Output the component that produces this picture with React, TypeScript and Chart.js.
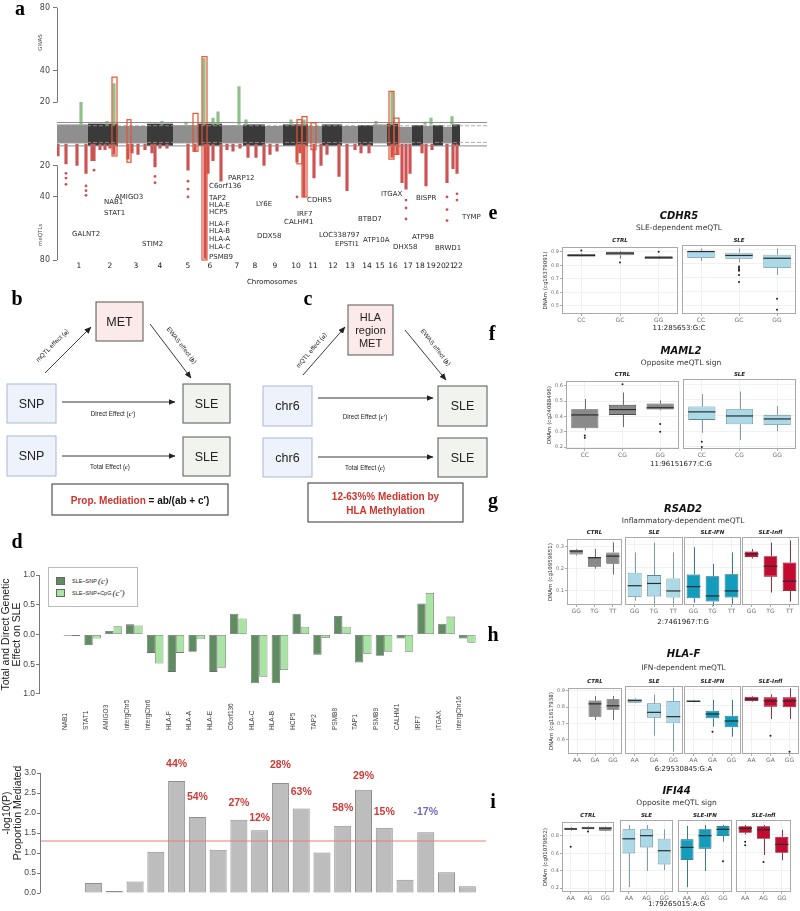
import React, { useEffect, useRef } from 'react';
import { Chart, registerables } from 'chart.js';

Chart.register(...registerables);

const SANS = "'DejaVu Sans', 'Liberation Sans', sans-serif";
const ARIAL = "'Liberation Sans', Arial, sans-serif";
const SERIF = "'Liberation Serif', 'DejaVu Serif', serif";

/* ================= Panel a : mirrored Manhattan (GWAS up, meQTL down) ================= */
const CHROM_NAMES = ['1','2','3','4','5','6','7','8','9','10','11','12','13','14','15','16','17','18','19','20','21','22'];
const CHROM_START = [0,31,61,90,116,141,165,186,208,226,251,265,285,301,316,330,341,355,366,376,386,395];
const CHROM_END = [31,61,90,116,141,165,186,208,226,251,265,285,301,316,330,341,355,366,376,386,395,403];
const CHROM_TICK = [22,53,79,103,131,153,180,198,218,239,256,276,293,310,323,336,351,363,374,384,393,401];
const BAND_TOP = [6,6.5,5,6.5,5.5,6.5,5.5,6,5,6,5,6,5,5.5,6,6.5,4.5,5.5,5,5.5,4.5,6];
const BAND_BOTTOM = [-6,-7.5,-6,-7.5,-6,-7.5,-6,-7.5,-6,-7.5,-6,-7.5,-6,-7.5,-6,-7.5,-6,-7.5,-6,-7.5,-6,-7.5];
const GWAS_POS = [24,50,57,105,129,147,156,161,182,189,234,247,319,335,368,374,395];
const GWAS_TOP = [20,8,32,8,7.5,48,10,14,30,9,9,9,8,27,7.5,10,11];
const MEQTL_POS = [1,9,20,29,35,37,43,48,53,57,71,75,81,88,95,98,103,110,131,138,148,151,156,164,170,176,183,191,199,207,213,220,240,243,247,257,264,270,282,290,298,304,312,335,340,345,349,353,365,369,375,390,396,400];
const MEQTL_BOTTOM = [-14,-19,-20,-25,-17,-17,-10,-10,-9,-13,-16,-12,-13,-10,-12,-21,-9,-9,-23,-11,-79,-25,-17,-30,-10,-11,-9,-15,-15,-20,-13,-11,-18,-12,-40,-28,-20,-13,-27,-36,-10,-12,-12,-15,-13,-31,-35,-25,-12,-33,-10,-31,-22,-25];
const MEQTL_DOT_POS = [9,9,9,29,29,29,37,98,98,131,131,131,240,349,349,349,390,390,390,400,400];
const MEQTL_DOT_VAL = [-25,-28,-32,-33,-36,-39,-23,-27,-31,-30,-35,-40,-40,-42,-47,-54,-40,-48,-55,-38,-42];
const HIT_X0 = [55,70,136,145,240,245,254,332,337];
const HIT_X1 = [60,74,141,150,245,250,259,337,342];
const HIT_TOP = [36,9,13,49,9,11,7,27,10];
const HIT_BOTTOM = [-14,-18,-11,-80,-19,-40,-10,-16,-13];
const THRESH_SOLID = [7.2, -7.6];
const THRESH_DASHED = [5.2, -5.4];
const A_Y_TICKS = [-80,-40,-20,20,40,80];
const A_X_MAX = 430;
const GENE_NAMES = ['PARP12','C6orf136','AMIGO3','NAB1','STAT1','TAP2','HLA-E','HCP5','HLA-F','HLA-B','HLA-A','HLA-C','PSMB9','LY6E','CDHR5','IRF7','CALHM1','DDX58','GALNT2','STIM2','ITGAX','BISPR','BTBD7','TYMP','LOC338797','EPSTI1','ATP10A','ATP9B','DHX58','BRWD1'];
const GENE_POS = [171,152,58,47,47,152,152,152,152,152,152,152,152,199,250,240,227,200,15,85,324,359,301,405,262,278,306,355,336,378];
const GENE_VAL = [-27.8,-33.4,-40.4,-43.5,-50.5,-41,-45.4,-49.8,-57.4,-61.8,-66.9,-71.9,-78.2,-44.8,-42.3,-51.1,-56.2,-65,-63.7,-70,-38.5,-41,-54.3,-53,-64.4,-70,-67.5,-65.6,-72,-72.6];

/* ================= Panel d ================= */
const D_CATS = ['NAB1','STAT1','AMIGO3','intergChr5','intergChr6','HLA-F','HLA-A','HLA-E','C6orf136','HLA-C','HLA-B','HCP5','TAP2','PSMB8','TAP1','PSMB9','CALHM1','IRF7','ITGAX','intergChr16'];
const D_TOTAL = [-0.02,-0.18,0.06,0.17,-0.31,-0.63,-0.29,-0.63,0.35,-0.82,-0.82,0.35,-0.34,0.31,-0.47,-0.36,-0.07,0.52,0.18,-0.07];
const D_DIRECT = [-0.03,-0.07,0.14,0.15,-0.49,-0.31,-0.08,-0.56,0.27,-0.71,-0.6,0.13,-0.06,0.13,-0.33,-0.29,-0.29,0.7,0.3,-0.14];
const D_NEGLOGP = [0.01,0.25,0.05,0.29,1.03,2.8,1.9,1.08,1.83,1.57,2.75,2.11,1.01,1.68,2.58,1.63,0.33,1.52,0.52,0.17];
const D_PCT = ['','','','','','44%','54%','','27%','12%','28%','63%','','58%','29%','15%','','-17%','',''];
const D_PCT_Y = [0,0,0,0,0,3.22,2.39,0,2.24,1.87,3.19,2.52,0,2.12,2.92,2.02,0,2.02,0,0];
const D_SIG = 1.3;
const D_TOP_TICKS = [-1,-0.5,0,0.5,1];
const D_BOT_TICKS = [0,0.5,1,1.5,2,2.5,3];
const D_X_MIN = -1.58;
const D_X_MAX = 19.9;

/* ================= Panels e-i : boxplots [min, q1, median, q3, max] ================= */
const E_GENO = ['CC','GC','GG'];
const E_CTRL = [[0.862,0.864,0.872,0.884,0.888],[0.85,0.874,0.89,0.9,0.905],[0.845,0.848,0.856,0.866,0.87]];
const E_CTRL_OUT = [[0.91],[0.82],[0.9]];
const E_SLE = [[0.82,0.842,0.888,0.893,0.91],[0.81,0.837,0.86,0.88,0.91],[0.72,0.77,0.84,0.865,0.91]];
const E_SLE_OUT = [[],[0.78,0.77,0.76,0.75,0.72,0.67],[0.55,0.47]];

const F_GENO = ['CC','CG','GG'];
const F_CTRL = [[0.31,0.323,0.41,0.447,0.515],[0.33,0.41,0.445,0.476,0.557],[0.44,0.445,0.457,0.485,0.505]];
const F_CTRL_OUT = [[0.275,0.26],[0.61],[0.35,0.3]];
const F_SLE = [[0.29,0.372,0.423,0.457,0.536],[0.244,0.344,0.397,0.44,0.553],[0.3,0.34,0.378,0.404,0.46]];
const F_SLE_OUT = [[0.233,0.2],[],[]];

const G_GENO = ['GG','TG','TT'];
const G_CTRL = [[0.26,0.264,0.28,0.286,0.29],[0.2,0.209,0.25,0.252,0.29],[0.174,0.222,0.257,0.274,0.32]];
const G_SLE = [[0.054,0.07,0.12,0.177,0.267],[0.04,0.073,0.13,0.167,0.31],[0.04,0.068,0.097,0.152,0.267]];
const G_IFN = [[0.045,0.065,0.116,0.17,0.29],[0.03,0.05,0.075,0.162,0.217],[0.04,0.068,0.097,0.171,0.267]];
const G_INFL = [[0.24,0.246,0.26,0.271,0.282],[0.09,0.16,0.206,0.25,0.31],[0.05,0.097,0.14,0.223,0.32]];

const H_GENO = ['AA','GA','GG'];
const H_CTRL = [null,[0.72,0.74,0.82,0.84,0.868],[0.72,0.784,0.808,0.848,0.868]];
const H_SLE = [[0.815,0.818,0.83,0.84,0.845],[0.62,0.728,0.76,0.814,0.866],[0.524,0.694,0.734,0.828,0.908]];
const H_IFN = [[0.82,0.822,0.827,0.83,0.832],[0.674,0.724,0.75,0.77,0.835],[0.614,0.67,0.708,0.74,0.835]];
const H_IFN_OUT = [[],[0.644],[]];
const H_INFL = [[0.825,0.828,0.84,0.854,0.858],[0.72,0.794,0.828,0.85,0.868],[0.72,0.79,0.828,0.85,0.904]];
const H_INFL_OUT = [[],[0.62],[0.524]];

const I_GENO = ['AA','AG','GG'];
const I_CTRL = [[0.86,0.867,0.88,0.893,0.9],[0.87,0.878,0.89,0.905,0.91],[0.855,0.86,0.888,0.905,0.91]];
const I_CTRL_OUT = [[0.677],[0.85],[]];
const I_SLE = [[0.21,0.587,0.75,0.856,0.905],[0.39,0.654,0.785,0.856,0.905],[0.4,0.464,0.617,0.75,0.856]];
const I_IFN = [[0.21,0.512,0.654,0.744,0.893],[0.39,0.64,0.785,0.856,0.905],[0.718,0.78,0.856,0.893,0.905]];
const I_IFN_OUT = [[],[],[0.5]];
const I_INFL = [[0.8,0.818,0.867,0.89,0.905],[0.57,0.75,0.85,0.89,0.905],[0.51,0.594,0.688,0.773,0.85]];
const I_INFL_OUT = [[0.718,0.677],[0.49],[]];

const NONE = [[],[],[]];
const COL = {
  CTRL: { fill: '#8a8a8a', stroke: '#4a4a4a' },
  SLE: { fill: '#acd9e8', stroke: '#5e8793' },
  'SLE-IFN': { fill: '#139cbb', stroke: '#0b5a6c' },
  'SLE-Infl': { fill: '#c30b31', stroke: '#6a0718' },
};

const ROWS: any[] = [
  { title: 'CDHR5', sub: 'SLE-dependent meQTL', xtitle: '11:285653:G:C', ytitle: 'DNAm (cg16379091)', geno: E_GENO,
    ymin: 0.44, ymax: 0.935, yticks: [0.5,0.6,0.7,0.8,0.9], titleY: 215, subY: 227, xtitleY: 328,
    rects: [[562,245,116,69],[682,245,114,69]],
    facets: [['CTRL', E_CTRL, E_CTRL_OUT], ['SLE', E_SLE, E_SLE_OUT]] },
  { title: 'MAML2', sub: 'Opposite meQTL sign', xtitle: '11:96151677:C:G', ytitle: 'DNAm (cg24088496)', geno: F_GENO,
    ymin: 0.187, ymax: 0.632, yticks: [0.2,0.3,0.4,0.5,0.6], titleY: 350, subY: 362, xtitleY: 464,
    rects: [[566,379,113,70],[683,379,113,70]],
    facets: [['CTRL', F_CTRL, F_CTRL_OUT], ['SLE', F_SLE, F_SLE_OUT]] },
  { title: 'RSAD2', sub: 'Inflammatory-dependent meQTL', xtitle: '2:7461967:T:G', ytitle: 'DNAm (cg10959651)', geno: G_GENO,
    ymin: 0.035, ymax: 0.335, yticks: [0.1,0.2,0.3], titleY: 508, subY: 520, xtitleY: 622,
    rects: [[567,537,55,68],[625,537,58,68],[684,537,57,68],[742,537,57,68]],
    facets: [['CTRL', G_CTRL, NONE], ['SLE', G_SLE, NONE], ['SLE-IFN', G_IFN, NONE], ['SLE-Infl', G_INFL, NONE]] },
  { title: 'HLA-F', sub: 'IFN-dependent meQTL', xtitle: '6:29530845:G:A', ytitle: 'DNAm (cg11617938)', geno: H_GENO,
    ymin: 0.51, ymax: 0.918, yticks: [0.6,0.7,0.8,0.9], titleY: 653, subY: 667, xtitleY: 769,
    rects: [[568,686,54,68],[625,686,58,68],[684,686,57,68],[742,686,57,68]],
    facets: [['CTRL', H_CTRL, NONE], ['SLE', H_SLE, NONE], ['SLE-IFN', H_IFN, H_IFN_OUT], ['SLE-Infl', H_INFL, H_INFL_OUT]] },
  { title: 'IFI44', sub: 'Opposite meQTL sign', xtitle: '1:79265015:A:G', ytitle: 'DNAm (cg01079652)', geno: I_GENO,
    ymin: 0.156, ymax: 0.96, yticks: [0.2,0.4,0.6,0.8], titleY: 790, subY: 802, xtitleY: 904,
    rects: [[562,820,52,72],[620,820,53,72],[678,820,54,72],[736,820,55,72]],
    facets: [['CTRL', I_CTRL, I_CTRL_OUT], ['SLE', I_SLE, NONE], ['SLE-IFN', I_IFN, I_IFN_OUT], ['SLE-Infl', I_INFL, I_INFL_OUT]] },
];

/* ================= helpers ================= */
function Cnv({ left, top, width, height, config }: any) {
  const ref = useRef<HTMLCanvasElement>(null);
  useEffect(() => {
    const chart = new Chart(ref.current as HTMLCanvasElement, config());
    return () => chart.destroy();
  }, []);
  return <canvas ref={ref} width={width} height={height} style={{ position: 'absolute', left, top, width, height }} />;
}

function T({ x, y, children, style, rot }: any) {
  return (
    <div style={{ position: 'absolute', left: x, top: y, transform: `translate(-50%, -50%)${rot ? ` rotate(${rot}deg)` : ''}`, whiteSpace: 'nowrap', lineHeight: 1, ...style }}>
      {children}
    </div>
  );
}

const rAxisPlugin = (segments: number[][], color: string) => ({
  id: 'raxis',
  afterDraw(chart: any) {
    const y = chart.scales.y; const x = Math.round(chart.chartArea.left) + 0.5; const ctx = chart.ctx;
    ctx.save(); ctx.strokeStyle = color; ctx.lineWidth = 1; ctx.beginPath();
    segments.forEach(([a, b]) => { ctx.moveTo(x, y.getPixelForValue(a)); ctx.lineTo(x, y.getPixelForValue(b)); });
    ctx.stroke(); ctx.restore();
  },
});

const yTitlePlugin = (lines: string[], xs: number[], font: string, color: string) => ({
  id: 'ytitle',
  afterDraw(chart: any) {
    const ctx = chart.ctx; const ca = chart.chartArea; const cy = (ca.top + ca.bottom) / 2;
    ctx.save(); ctx.font = font; ctx.fillStyle = color; ctx.textAlign = 'center'; ctx.textBaseline = 'middle';
    lines.forEach((l, i) => { ctx.save(); ctx.translate(xs[i], cy); ctx.rotate(-Math.PI / 2); ctx.fillText(l, 0, 0); ctx.restore(); });
    ctx.restore();
  },
});

/* ---------- Manhattan ---------- */
function manhattanConfig() {
  const lines: any[] = [];
  THRESH_SOLID.forEach((v) => lines.push({ type: 'line', data: [{ x: 0, y: v }, { x: A_X_MAX, y: v }], borderColor: '#8a8a8a', borderWidth: 1, pointRadius: 0, order: 2 }));
  THRESH_DASHED.forEach((v) => lines.push({ type: 'line', data: [{ x: 0, y: v }, { x: A_X_MAX, y: v }], borderColor: '#9a9a9a', borderWidth: 0.8, borderDash: [4, 2], pointRadius: 0, order: 2 }));
  const bands = {
    id: 'bands',
    beforeDatasetsDraw(chart: any) {
      const { ctx, scales: { x, y } } = chart;
      ctx.save();
      CHROM_START.forEach((s, i) => {
        const x0 = x.getPixelForValue(s); const x1 = x.getPixelForValue(CHROM_END[i]);
        const y0 = y.getPixelForValue(BAND_TOP[i]); const y1 = y.getPixelForValue(BAND_BOTTOM[i]);
        ctx.fillStyle = i % 2 === 0 ? '#8f8f8f' : '#3a3a3a';
        ctx.fillRect(x0, y0, x1 - x0, y1 - y0);
      });
      ctx.restore();
    },
  };
  const hits = {
    id: 'hits',
    afterDatasetsDraw(chart: any) {
      const { ctx, scales: { x, y } } = chart;
      ctx.save(); ctx.strokeStyle = '#e4532f'; ctx.lineWidth = 1.2;
      HIT_X0.forEach((x0, i) => {
        const px0 = x.getPixelForValue(x0); const px1 = x.getPixelForValue(HIT_X1[i]);
        const py0 = y.getPixelForValue(HIT_TOP[i]); const py1 = y.getPixelForValue(HIT_BOTTOM[i]);
        ctx.strokeRect(px0, py0, px1 - px0, py1 - py0);
      });
      ctx.restore();
    },
  };
  const labels = {
    id: 'genes',
    afterDraw(chart: any) {
      const { ctx, scales: { x, y }, chartArea } = chart;
      ctx.save(); ctx.fillStyle = '#2a2a2a'; ctx.font = `7px ${SANS}`; ctx.textAlign = 'left'; ctx.textBaseline = 'middle';
      GENE_NAMES.forEach((g, i) => ctx.fillText(g, x.getPixelForValue(GENE_POS[i]), y.getPixelForValue(GENE_VAL[i])));
      ctx.fillStyle = '#555'; ctx.font = `5.5px ${SANS}`; ctx.textAlign = 'center';
      [['GWAS', 58], ['meQTLs', -64]].forEach(([t, v]: any) => {
        ctx.save(); ctx.translate(chartArea.left - 16, y.getPixelForValue(v)); ctx.rotate(-Math.PI / 2); ctx.fillText(t, 0, 0); ctx.restore();
      });
      ctx.restore();
    },
  };
  return {
    type: 'bar',
    data: {
      datasets: [
        { type: 'bar', data: GWAS_POS.map((x, i) => ({ x, y: [6, GWAS_TOP[i]] })), backgroundColor: '#8fc08b', barThickness: 2.5, grouped: false, order: 3 },
        { type: 'bar', data: MEQTL_POS.map((x, i) => ({ x, y: [-6.5, MEQTL_BOTTOM[i]] })), backgroundColor: '#cf5252', barThickness: 2.5, grouped: false, order: 3 },
        { type: 'line', showLine: false, data: MEQTL_DOT_POS.map((x, i) => ({ x, y: MEQTL_DOT_VAL[i] })), pointRadius: 1.4, pointBackgroundColor: '#cf5252', pointBorderWidth: 0, order: 3 },
        ...lines,
      ],
    },
    options: {
      animation: false, responsive: false, devicePixelRatio: 1, events: [],
      layout: { padding: { top: 6, right: 13, bottom: 4, left: 0 } },
      plugins: { legend: { display: false }, tooltip: { enabled: false } },
      scales: {
        x: {
          type: 'linear', min: 0, max: A_X_MAX, offset: false,
          afterBuildTicks: (s: any) => { s.ticks = CHROM_TICK.map((v) => ({ value: v })); },
          ticks: { autoSkip: false, maxRotation: 0, minRotation: 0, callback: (_v: any, i: number) => CHROM_NAMES[i], font: { family: SANS, size: 7.5 }, color: '#222', padding: 2 },
          grid: { display: false, drawTicks: false }, border: { display: false },
          title: { display: true, text: 'Chromosomes', font: { family: SANS, size: 7 }, color: '#222', padding: 0 },
          afterFit: (s: any) => { s.height = 26; },
        },
        y: {
          min: -80, max: 80,
          afterBuildTicks: (s: any) => { s.ticks = A_Y_TICKS.map((v) => ({ value: v })); },
          ticks: { callback: (v: any) => String(Math.abs(v)), font: { family: SANS, size: 8 }, color: '#444', padding: 3 },
          grid: { drawOnChartArea: false, tickLength: 4, color: '#777' }, border: { display: false },
          afterFit: (s: any) => { s.width = 57; },
        },
      },
    },
    plugins: [bands, hits, labels, rAxisPlugin([[20, 80], [-20, -80]], '#777')],
  };
}

/* ---------- d top ---------- */
function dTopConfig() {
  return {
    type: 'bar',
    data: {
      datasets: [
        { label: 'SLE~SNP (c)', data: D_TOTAL.map((v, i) => ({ x: i, y: v })), backgroundColor: '#5f8d60', borderColor: '#6b6b6b', borderWidth: 0.8, borderSkipped: false, categoryPercentage: 0.8, barPercentage: 1 },
        { label: "SLE~SNP+CpG (c')", data: D_DIRECT.map((v, i) => ({ x: i, y: v })), backgroundColor: '#a9e5a2', borderColor: '#7a7a7a', borderWidth: 0.8, borderSkipped: false, categoryPercentage: 0.8, barPercentage: 1 },
      ],
    },
    options: {
      animation: false, responsive: false, devicePixelRatio: 1, events: [],
      layout: { padding: { top: 15, right: 14, bottom: 5, left: 0 } },
      plugins: { legend: { display: false }, tooltip: { enabled: false } },
      scales: {
        x: { type: 'linear', min: D_X_MIN, max: D_X_MAX, offset: false, display: false },
        y: {
          min: -1, max: 1,
          afterBuildTicks: (s: any) => { s.ticks = D_TOP_TICKS.map((v) => ({ value: v })); },
          ticks: { callback: (v: any) => Math.abs(v).toFixed(1), font: { family: ARIAL, size: 8.5 }, color: '#444', padding: 1 },
          grid: { drawOnChartArea: false, tickLength: 3, color: '#777' }, border: { display: true, color: '#777' },
          afterFit: (s: any) => { s.width = 39; },
        },
      },
    },
    plugins: [yTitlePlugin(['Total and Direct Genetic', 'Effect on SLE'], [6, 17], `10.5px ${ARIAL}`, '#222')],
  };
}

/* ---------- d bottom ---------- */
function dBotConfig() {
  const pct = {
    id: 'pct',
    afterDatasetsDraw(chart: any) {
      const { ctx, scales: { x, y } } = chart;
      ctx.save(); ctx.font = `bold 10.5px ${ARIAL}`; ctx.textAlign = 'center'; ctx.textBaseline = 'middle';
      D_PCT.forEach((t, i) => {
        if (!t) return;
        ctx.fillStyle = t.startsWith('-') ? '#7366c4' : '#cf3a36';
        ctx.fillText(t, x.getPixelForValue(i), y.getPixelForValue(D_PCT_Y[i]));
      });
      ctx.restore();
    },
  };
  return {
    type: 'bar',
    data: {
      datasets: [
        { type: 'line', data: [{ x: D_X_MIN, y: D_SIG }, { x: D_X_MAX, y: D_SIG }], borderColor: '#f07a6e', borderWidth: 1, pointRadius: 0, order: 0 },
        { type: 'bar', data: D_NEGLOGP.map((v, i) => ({ x: i, y: v })), backgroundColor: '#bdbdbd', borderColor: '#8f8f8f', borderWidth: 1, borderSkipped: false, categoryPercentage: 1, barPercentage: 0.82, order: 1 },
      ],
    },
    options: {
      animation: false, responsive: false, devicePixelRatio: 1, events: [],
      layout: { padding: { top: 0, right: 14, bottom: 18, left: 0 } },
      plugins: { legend: { display: false }, tooltip: { enabled: false } },
      scales: {
        x: {
          type: 'linear', position: 'top', min: D_X_MIN, max: D_X_MAX, offset: false,
          afterBuildTicks: (s: any) => { s.ticks = D_CATS.map((_c, i) => ({ value: i })); },
          ticks: { autoSkip: false, minRotation: 90, maxRotation: 90, callback: (_v: any, i: number) => D_CATS[i], font: { family: ARIAL, size: 6.5 }, color: '#444', padding: 3 },
          grid: { display: false, drawTicks: false }, border: { display: false },
          afterFit: (s: any) => { s.height = 43; },
        },
        y: {
          min: 0, max: 4,
          afterBuildTicks: (s: any) => { s.ticks = D_BOT_TICKS.map((v) => ({ value: v })); },
          ticks: { callback: (v: any) => Number(v).toFixed(1), font: { family: ARIAL, size: 8.5 }, color: '#444', padding: 1 },
          grid: { drawOnChartArea: false, tickLength: 3, color: '#777' }, border: { display: false },
          afterFit: (s: any) => { s.width = 40; },
        },
      },
    },
    plugins: [pct, rAxisPlugin([[0, 3]], '#777'), yTitlePlugin(['-log10(P)', 'Proportion Mediated'], [7, 18], `10.5px ${ARIAL}`, '#222')],
  };
}

/* ---------- boxplot facets ---------- */
const YL = 20;
const XH = 10;
function boxPlugin(stats: any[], outs: number[][], stroke: string) {
  return {
    id: 'boxwhisk',
    beforeDatasetsDraw(chart: any) {
      const { ctx, scales: { x, y } } = chart;
      ctx.save(); ctx.strokeStyle = stroke; ctx.lineWidth = 0.8;
      stats.forEach((s, i) => {
        if (!s) return;
        const cx = Math.round(x.getPixelForValue(i)) + 0.5;
        ctx.beginPath();
        ctx.moveTo(cx, y.getPixelForValue(s[0])); ctx.lineTo(cx, y.getPixelForValue(s[1]));
        ctx.moveTo(cx, y.getPixelForValue(s[3])); ctx.lineTo(cx, y.getPixelForValue(s[4]));
        ctx.stroke();
      });
      ctx.restore();
    },
    afterDatasetsDraw(chart: any) {
      const { ctx, scales: { x, y } } = chart;
      const meta = chart.getDatasetMeta(0);
      ctx.save();
      stats.forEach((s, i) => {
        if (!s) return;
        const el = meta.data[i]; const cx = x.getPixelForValue(i); const hw = el.width / 2;
        ctx.strokeStyle = '#2b2b2b'; ctx.lineWidth = 1.2; ctx.beginPath();
        const my = y.getPixelForValue(s[2]);
        ctx.moveTo(cx - hw, my); ctx.lineTo(cx + hw, my); ctx.stroke();
      });
      ctx.fillStyle = '#1e1e1e';
      outs.forEach((list, i) => list.forEach((v) => {
        ctx.beginPath(); ctx.arc(x.getPixelForValue(i), y.getPixelForValue(v), 1, 0, Math.PI * 2); ctx.fill();
      }));
      ctx.restore();
    },
  };
}
const borderPlugin = {
  id: 'pborder',
  afterDraw(chart: any) {
    const { ctx, chartArea: a } = chart;
    ctx.save(); ctx.strokeStyle = '#a9a9a9'; ctx.lineWidth = 1;
    ctx.strokeRect(Math.round(a.left) + 0.5, Math.round(a.top) + 0.5, Math.round(a.right - a.left) - 1, Math.round(a.bottom - a.top) - 1);
    ctx.restore();
  },
};
function facetConfig(row: any, fi: number) {
  const [name, stats, outs] = row.facets[fi];
  const first = fi === 0;
  const c = (COL as any)[name];
  return () => ({
    type: 'bar',
    data: {
      labels: row.geno,
      datasets: [{ data: stats.map((s: any) => (s ? [s[1], s[3]] : null)), backgroundColor: c.fill, borderColor: c.stroke, borderWidth: 0.8, borderSkipped: false, barPercentage: 0.72, categoryPercentage: 1 }],
    },
    options: {
      animation: false, responsive: false, devicePixelRatio: 1, events: [],
      layout: { padding: { top: 2, right: 1, bottom: 0, left: 0 } },
      plugins: { legend: { display: false }, tooltip: { enabled: false } },
      scales: {
        x: {
          grid: { color: '#ebebeb', lineWidth: 0.7, offset: false, drawTicks: true, tickLength: 2, tickColor: '#8a8a8a' }, border: { display: false },
          ticks: { font: { family: SANS, size: 6 }, color: '#6e6e6e', padding: 1, maxRotation: 0, autoSkip: false },
          afterFit: (s: any) => { s.height = XH; },
        },
        y: {
          min: row.ymin, max: row.ymax,
          afterBuildTicks: (s: any) => { s.ticks = row.yticks.map((v: number) => ({ value: v })); },
          ticks: { display: first, font: { family: SANS, size: 5 }, color: '#6e6e6e', padding: 1, callback: (v: any) => Number(v).toFixed(1) },
          grid: { color: '#ebebeb', lineWidth: 0.7, drawTicks: first, tickLength: 2, tickColor: '#8a8a8a' }, border: { display: false },
          title: { display: first, text: row.ytitle, font: { family: SANS, size: 5.5 }, color: '#333', padding: 0 },
          afterFit: (s: any) => { s.width = first ? YL : 0; },
        },
      },
    },
    plugins: [boxPlugin(stats, outs, c.stroke), borderPlugin],
  });
}

function BoxRow({ row }: any) {
  const x0 = row.rects[0][0];
  const last = row.rects[row.rects.length - 1];
  const cx = (x0 + last[0] + last[2]) / 2;
  return (
    <>
      <T x={cx} y={row.titleY} style={{ font: `italic bold 10px ${SANS}`, color: '#111' }}>{row.title}</T>
      <T x={cx} y={row.subY} style={{ font: `7.5px ${SANS}`, color: '#333' }}>{row.sub}</T>
      {row.rects.map((r: number[], i: number) => {
        const first = i === 0;
        return (
          <React.Fragment key={i}>
            <T x={r[0] + r[2] / 2} y={r[1] - 5} style={{ font: `italic bold 5.5px ${SANS}`, color: '#222' }}>{row.facets[i][0]}</T>
            <Cnv left={r[0] - (first ? YL : 0)} top={r[1] - 2} width={r[2] + (first ? YL : 0) + 1} height={r[3] + 2 + XH} config={facetConfig(row, i)} />
          </React.Fragment>
        );
      })}
      <T x={cx} y={row.xtitleY} style={{ font: `7px ${SANS}`, color: '#222' }}>{row.xtitle}</T>
    </>
  );
}

/* ---------- diagrams b & c ---------- */
function Box({ x, y, w, h, fill, stroke, lines, size }: any) {
  return (
    <g>
      <rect x={x} y={y} width={w} height={h} fill={fill} stroke={stroke} strokeWidth={1} />
      {lines.map((l: string, i: number) => (
        <text key={i} x={x + w / 2} y={y + h / 2 + (i - (lines.length - 1) / 2) * (size * 1.15)} fontSize={size} fontFamily={ARIAL} fill="#222" textAnchor="middle" dominantBaseline="central">{l}</text>
      ))}
    </g>
  );
}
function Arr({ x1, y1, x2, y2 }: any) {
  return <line x1={x1} y1={y1} x2={x2} y2={y2} stroke="#222" strokeWidth={0.9} markerEnd="url(#ah)" />;
}
function Lbl({ x, y, rot, main, sym }: any) {
  return (
    <text x={x} y={y} fontSize={6.3} fontFamily={ARIAL} fill="#222" textAnchor="middle" dominantBaseline="central" transform={rot ? `rotate(${rot} ${x} ${y})` : undefined}>
      {main}<tspan fontStyle="italic" fontWeight="bold" fontFamily={SERIF}>{sym}</tspan>)
    </text>
  );
}
const PINK = '#fce9e9';
const BLUE = '#eef2fa';
const GREEN = '#f1f4ee';
function Diagrams() {
  return (
    <svg width={800} height={911} style={{ position: 'absolute', left: 0, top: 0, pointerEvents: 'none' }}>
      <defs>
        <marker id="ah" markerUnits="userSpaceOnUse" markerWidth="7" markerHeight="6" refX="6.5" refY="3" orient="auto">
          <path d="M0,0 L7,3 L0,6 z" fill="#222" />
        </marker>
      </defs>
      {/* b */}
      <Box x={96} y={302} w={47} h={39} fill={PINK} stroke="#555" lines={['MET']} size={12.5} />
      <Box x={7} y={384} w={49} h={39} fill={BLUE} stroke="#a9b8d6" lines={['SNP']} size={12.5} />
      <Box x={183} y={384} w={47} h={39} fill={GREEN} stroke="#555" lines={['SLE']} size={12.5} />
      <Box x={7} y={436} w={49} h={40} fill={BLUE} stroke="#a9b8d6" lines={['SNP']} size={12.5} />
      <Box x={183} y={437} w={47} h={39} fill={GREEN} stroke="#555" lines={['SLE']} size={12.5} />
      <Arr x1={45} y1={373} x2={91} y2={327} />
      <Arr x1={150} y1={324} x2={191} y2={378} />
      <Arr x1={62} y1={402} x2={175} y2={402} />
      <Arr x1={62} y1={456} x2={175} y2={456} />
      <Lbl x={52} y={345} rot={-45} main="mQTL effect (" sym="a" />
      <Lbl x={182} y={345} rot={52} main="EWAS effect (" sym="b" />
      <Lbl x={113} y={413} main="Direct Effect (" sym="c′" />
      <Lbl x={110} y={466} main="Total Effect (" sym="c" />
      <rect x={52} y={484} width={176} height={31} fill="#fff" stroke="#333" strokeWidth={1} />
      <text x={140} y={500} fontSize={10} fontFamily={ARIAL} fontWeight="bold" textAnchor="middle" dominantBaseline="central">
        <tspan fill="#d0342c">Prop. Mediation</tspan><tspan fill="#111">{' =  ab/(ab + c′)'}</tspan>
      </text>
      {/* c */}
      <Box x={348} y={305} w={45} h={50} fill={PINK} stroke="#555" lines={['HLA', 'region', 'MET']} size={11} />
      <Box x={263} y={386} w={49} h={40} fill={BLUE} stroke="#a9b8d6" lines={['chr6']} size={12.5} />
      <Box x={438} y={386} w={49} h={40} fill={GREEN} stroke="#555" lines={['SLE']} size={12.5} />
      <Box x={263} y={438} w={49} h={39} fill={BLUE} stroke="#a9b8d6" lines={['chr6']} size={12.5} />
      <Box x={438} y={438} w={49} h={39} fill={GREEN} stroke="#555" lines={['SLE']} size={12.5} />
      <Arr x1={303} y1={375} x2={345} y2={327} />
      <Arr x1={405} y1={330} x2={446} y2={380} />
      <Arr x1={318} y1={398} x2={433} y2={398} />
      <Arr x1={318} y1={457} x2={433} y2={457} />
      <Lbl x={311} y={350} rot={-50} main="mQTL effect (" sym="a" />
      <Lbl x={436} y={347} rot={52} main="EWAS effect (" sym="b" />
      <Lbl x={365} y={416} main="Direct Effect (" sym="c′" />
      <Lbl x={365} y={467} main="Total Effect (" sym="c" />
      <rect x={308} y={483} width={155} height={39} fill="#fff" stroke="#333" strokeWidth={1} />
      <text x={385.5} y={496} fontSize={10} fontFamily={ARIAL} fontWeight="bold" fill="#d0342c" textAnchor="middle" dominantBaseline="central">12-63%%  Mediation by</text>
      <text x={385.5} y={510} fontSize={10} fontFamily={ARIAL} fontWeight="bold" fill="#d0342c" textAnchor="middle" dominantBaseline="central">HLA Methylation</text>
    </svg>
  );
}

function Legend() {
  const row = (color: string, label: string, sym: string) => (
    <div style={{ display: 'flex', alignItems: 'center', height: 12 }}>
      <div style={{ width: 7, height: 6, background: color, border: '0.8px solid #666', marginRight: 7 }} />
      <span style={{ font: `5.5px ${ARIAL}`, color: '#222' }}>{label}</span>
      <span style={{ font: `italic 9px ${SERIF}`, color: '#222', marginLeft: 1 }}>{sym}</span>
    </div>
  );
  return (
    <div style={{ position: 'absolute', left: 48, top: 567, width: 90, height: 40, border: '1px solid #bbb', background: '#fff', padding: '7px 0 0 7px', boxSizing: 'border-box' }}>
      {row('#5f8d60', 'SLE~SNP', '(c)')}
      {row('#a9e5a2', 'SLE~SNP+CpG', "(c′)")}
    </div>
  );
}

const LETTERS: any[] = [['a', 20, 8], ['b', 17, 298], ['c', 308, 298], ['d', 17, 541], ['e', 493, 212], ['f', 492, 333], ['g', 493, 500], ['h', 493, 634], ['i', 493, 801]];

export default function App() {
  return (
    <div style={{ position: 'absolute', left: 0, top: 0, width: 800, height: 911, background: '#fff', overflow: 'hidden' }}>
      <Cnv left={0} top={0} width={500} height={290} config={manhattanConfig} />
      <Diagrams />
      <Cnv left={0} top={690} width={500} height={221} config={dBotConfig} />
      <Cnv left={0} top={560} width={500} height={140} config={dTopConfig} />
      <Legend />
      {ROWS.map((r, i) => <BoxRow key={i} row={r} />)}
      {LETTERS.map(([l, x, y]) => (
        <T key={l} x={x} y={y} style={{ font: `bold 20px ${SERIF}`, color: '#000' }}>{l}</T>
      ))}
    </div>
  );
}
